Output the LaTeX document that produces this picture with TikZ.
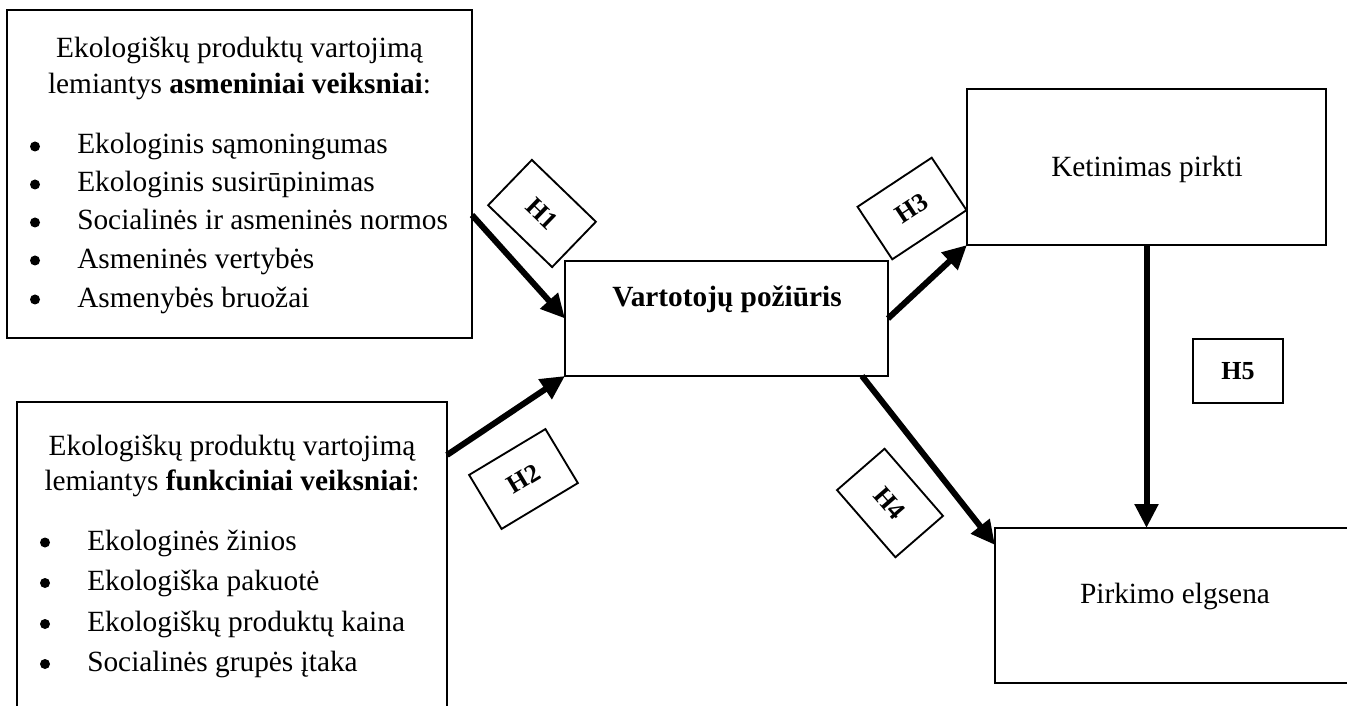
\documentclass[tikz,border=0pt]{standalone}
\usepackage{fontspec}
\setmainfont{Liberation Serif}
\usetikzlibrary{arrows.meta,calc}
\begin{document}
\begin{tikzpicture}[x=0.75pt,y=-0.75pt,
  box/.style={draw, line width=2.2pt, inner sep=0pt, outer sep=0pt},
  hbox/.style={draw, fill=white, line width=1.4pt, inner sep=0pt, outer sep=0pt,
    minimum width={89*0.75pt}, minimum height={63*0.75pt},
    font=\fontsize{19.5}{22}\selectfont\bfseries},
  txt/.style={inner sep=0pt, font=\fontsize{22}{28}\selectfont},
  btxt/.style={inner sep=0pt, font=\fontsize{22}{28}\selectfont\bfseries},
  bul/.style={circle, fill=black, inner sep=0pt, minimum size={10*0.75pt}},
  conn/.style={line width=4.5pt, -{Triangle[length=18pt,width=17pt]}},
]
\useasboundingbox (0,0) rectangle (1347,706);
\clip (0,0) rectangle (1347,706);

% boxes
\node[box, minimum width={465*0.75pt}, minimum height={328*0.75pt}] (a) at (239.5,174) {};
\node[box, minimum width={430*0.75pt}, minimum height={330*0.75pt}] (b) at (232,567) {};
\node[box, minimum width={323*0.75pt}, minimum height={115*0.75pt}] (vp) at (726.5,318.5) {};
\node[box, minimum width={359*0.75pt}, minimum height={156*0.75pt}] (k) at (1146.5,167) {};
\node[box, minimum width={360*0.75pt}, minimum height={155*0.75pt}] (p) at (1175,605.5) {};

% box A text
\node[txt, anchor=base] (a1) at (239.5,58) {Ekologiškų produktų vartojimą};
\node[txt, anchor=base] (a2) at (239.5,94) {lemiantys \textbf{asmeniniai veiksniai}:};
\foreach \yy/\itemtext [count=\i] in {154/{Ekologinis sąmoningumas},192/{Ekologinis susirūpinimas},230/{Socialinės ir asmeninės normos},268/{Asmeninės vertybės},307/{Asmenybės bruožai}}{
  \node[bul] (abul\i) at (35,\yy-7.5) {};
  \node[txt, anchor=base west] (aitem\i) at (77,\yy) {\itemtext};
}

% box B text
\node[txt, anchor=base] (b1) at (232,455) {Ekologiškų produktų vartojimą};
\node[txt, anchor=base] (b2) at (232,490) {lemiantys \textbf{funkciniai veiksniai}:};
\foreach \yy/\itemtext [count=\i] in {550/{Ekologinės žinios},590.5/{Ekologiška pakuotė},631.5/{Ekologiškų produktų kaina},671.5/{Socialinės grupės įtaka}}{
  \node[bul] (bbul\i) at (45,\yy-7.5) {};
  \node[txt, anchor=base west] (bitem\i) at (87,\yy) {\itemtext};
}

% other texts
\node[btxt, anchor=base] (vpt) at (727,306.7) {Vartotojų požiūris};
\node[txt, anchor=base] (kt) at (1147,177) {Ketinimas pirkti};
\node[txt, anchor=base] (ptxt) at (1175,603) {Pirkimo elgsena};

% connectors
\draw[conn] ($(a.north east)+(0,205)$) -- (vp.west);
\draw[conn] ($(b.north east)+(0,53)$) -- (vp.south west);
\draw[conn] (vp.east) -- (k.south west);
\draw[conn] ($(vp.south east)+(-26,0)$) -- ($(p.north west)+(0,17)$);
\draw[conn] (k.south) -- (k.south |- p.north);

% hypothesis labels
\node[hbox, rotate=-44] (h1) at (542,213.5) {H1};
\node[hbox, rotate=31] (h2) at (523.5,479) {H2};
\node[hbox, rotate=33.5] (h3) at (912,208.5) {H3};
\node[hbox, rotate=-49] (h4) at (890,503) {H4};
\node[hbox, minimum width={90*0.75pt}, minimum height={64*0.75pt}] (h5) at (1238,371) {H5};
\end{tikzpicture}
\end{document}
